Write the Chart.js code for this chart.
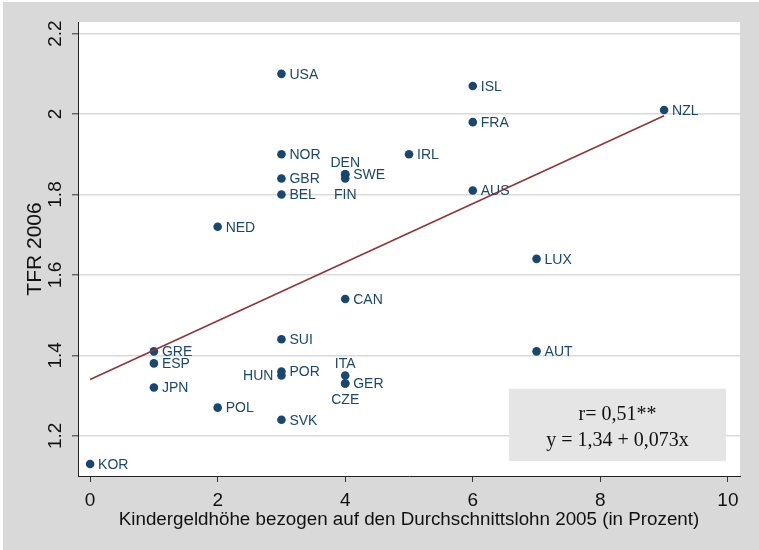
<!DOCTYPE html>
<html>
<head>
<meta charset="utf-8">
<script src="https://cdn.jsdelivr.net/npm/chart.js@4"></script>
<style>
  html, body { margin: 0; padding: 0; background: #fff; }
  #chart { position: absolute; left: 3px; top: 2px; background: #d9d9d9; }
</style>
</head>
<body>
<canvas id="chart" width="756" height="548"></canvas>
<script>
// country codes, child benefit (% of average wage 2005), TFR 2006
const countries = ['USA','ISL','FRA','NZL','NOR','IRL','DEN','SWE','FIN','GBR','BEL','AUS','NED','LUX',
                   'CAN','SUI','GRE','AUT','ESP','POR','HUN','ITA','GER','CZE','JPN','POL','SVK','KOR'];
const kindergeld = [3, 6, 6, 9, 3, 5, 4, 4, 4, 3, 3, 6, 2, 7,
                    4, 3, 1, 7, 1, 3, 3, 4, 4, 4, 1, 2, 3, 0];
const tfr = [2.10, 2.07, 1.98, 2.01, 1.90, 1.90, 1.85, 1.85, 1.84, 1.84, 1.80, 1.81, 1.72, 1.64,
             1.54, 1.44, 1.41, 1.41, 1.38, 1.36, 1.35, 1.35, 1.33, 1.33, 1.32, 1.27, 1.24, 1.13];
// where the label sits relative to the marker: r = right, l = left, t = above, b = below
const labelPos = ['r','r','r','r','r','r','t','r','b','r','r','r','r','r',
                  'r','r','r','r','r','r','l','t','r','b','r','r','r','r'];

// fitted line y = 1,34 + 0,073x (end points)
const fitLine = [{ x: 0, y: 1.34 }, { x: 9, y: 1.996 }];

const xTicks = [0, 2, 4, 6, 8, 10];
const yTicks = [1.2, 1.4, 1.6, 1.8, 2, 2.2];
const yTickLabels = ['1.2', '1.4', '1.6', '1.8', '2', '2.2'];

const statLines = ['r= 0,51**', 'y = 1,34 + 0,073x'];

const navy = '#1a476f';
const maroon = '#90353b';
const sans = "'Liberation Sans', Arial, sans-serif";
const serif = "'Liberation Serif', 'Times New Roman', serif";

const points = countries.map((c, i) => ({ x: kindergeld[i], y: tfr[i] }));

const plotBg = {
    id: 'plotBg',
    beforeDraw(chart) {
        const { ctx, chartArea: a } = chart;
        ctx.save();
        ctx.fillStyle = '#fff';
        ctx.fillRect(a.left, a.top, a.right - a.left, a.bottom - a.top);
        ctx.restore();
    }
};

// country labels, y tick labels (vertical, Stata style) and the stats box
const extras = {
    id: 'extras',
    afterDatasetsDraw(chart) {
        const { ctx, scales: { x, y } } = chart;
        ctx.save();

        // stats box
        const bx1 = x.getPixelForValue(6.57), bx2 = x.getPixelForValue(9.97);
        const by1 = y.getPixelForValue(1.317), by2 = y.getPixelForValue(1.137);
        ctx.fillStyle = '#e5e5e5';
        ctx.fillRect(bx1, by1, bx2 - bx1, by2 - by1);
        ctx.fillStyle = '#111';
        ctx.font = '20px ' + serif;
        ctx.textAlign = 'center';
        ctx.textBaseline = 'alphabetic';
        ctx.fillText(statLines[0], (bx1 + bx2) / 2, by1 + 31);
        ctx.fillText(statLines[1], (bx1 + bx2) / 2, by1 + 57);

        // point labels
        ctx.fillStyle = navy;
        ctx.font = '14px ' + sans;
        countries.forEach((c, i) => {
            const px = x.getPixelForValue(kindergeld[i]);
            const py = y.getPixelForValue(tfr[i]);
            const p = labelPos[i];
            if (p === 'r') {
                ctx.textAlign = 'left'; ctx.textBaseline = 'middle';
                ctx.fillText(c, px + 8, py + 1);
            } else if (p === 'l') {
                ctx.textAlign = 'right'; ctx.textBaseline = 'middle';
                ctx.fillText(c, px - 8, py + 1);
            } else if (p === 't') {
                ctx.textAlign = 'center'; ctx.textBaseline = 'alphabetic';
                ctx.fillText(c, px, py - 7);
            } else {
                ctx.textAlign = 'center'; ctx.textBaseline = 'top';
                ctx.fillText(c, px, py + 10);
            }
        });

        // y tick labels, rotated
        ctx.fillStyle = '#111';
        ctx.font = '19px ' + sans;
        ctx.textAlign = 'center';
        ctx.textBaseline = 'middle';
        yTicks.forEach((v, i) => {
            ctx.save();
            ctx.translate(y.right - 22, y.getPixelForValue(v));
            ctx.rotate(-Math.PI / 2);
            ctx.fillText(yTickLabels[i], 0, 0);
            ctx.restore();
        });
        ctx.restore();
    }
};

new Chart(document.getElementById('chart'), {
    type: 'scatter',
    data: {
        datasets: [{
            type: 'line',
            data: fitLine,
            borderColor: maroon,
            borderWidth: 1.6,
            pointRadius: 0,
            fill: false,
            tension: 0
        }, {
            data: points,
            backgroundColor: navy,
            borderWidth: 0,
            pointRadius: 4.3,
            pointHoverRadius: 4.3
        }]
    },
    options: {
        responsive: false,
        animation: false,
        events: [],
        layout: { padding: { top: 20, right: 19, bottom: 0, left: 0 } },
        plugins: { legend: { display: false }, tooltip: { enabled: false } },
        scales: {
            x: {
                type: 'linear',
                min: -0.19,
                max: 10.19,
                afterBuildTicks: s => { s.ticks = xTicks.map(v => ({ value: v })); },
                afterFit: s => { s.height = 74; },
                grid: { drawOnChartArea: false, drawTicks: true, tickLength: 6, tickColor: '#333', tickWidth: 1 },
                border: { display: true, color: '#222', width: 1 },
                ticks: { color: '#111', font: { family: sans, size: 19 }, padding: 7, maxRotation: 0 },
                title: {
                    display: true,
                    text: 'Kindergeldhöhe bezogen auf den Durchschnittslohn 2005 (in Prozent)',
                    color: '#111',
                    font: { family: sans, size: 18.8 },
                    padding: { top: 0, bottom: 19 }
                }
            },
            y: {
                type: 'linear',
                min: 1.1,
                max: 2.229,
                afterBuildTicks: s => { s.ticks = yTicks.map(v => ({ value: v })); },
                afterFit: s => { s.width = 75; },
                grid: { color: '#dadada', lineWidth: 1.6, drawTicks: true, tickLength: 6, tickColor: '#333', tickWidth: 1 },
                border: { display: true, color: '#222', width: 1 },
                ticks: { display: false },
                title: {
                    display: true,
                    text: 'TFR 2006',
                    color: '#111',
                    font: { family: sans, size: 21 },
                    padding: { top: 20, bottom: 0 }
                }
            }
        }
    },
    plugins: [plotBg, extras]
});
</script>
</body>
</html>
